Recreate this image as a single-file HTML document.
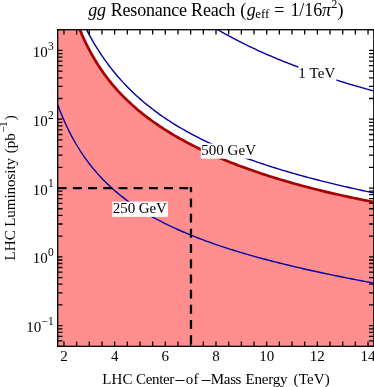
<!DOCTYPE html>
<html><head><meta charset="utf-8"><title>gg Resonance Reach</title>
<style>
html,body{margin:0;padding:0;background:#fff;}
body{width:374px;height:387px;overflow:hidden;}
svg{display:block;font-family:"Liberation Serif",serif;fill:#000;}
</style></head><body>
<svg width="374" height="387" viewBox="0 0 374 387">
<rect width="374" height="387" fill="#fff"/>
<path d="M79.90,29.70 L82.01,34.71 L84.13,39.43 L86.24,43.88 L88.36,48.10 L90.47,52.11 L92.58,55.91 L94.70,59.54 L96.81,63.00 L98.93,66.31 L101.04,69.48 L103.16,72.52 L105.27,75.44 L107.39,78.25 L109.50,80.95 L111.61,83.56 L113.73,86.08 L115.84,88.51 L117.96,90.86 L120.07,93.14 L122.19,95.35 L124.30,97.50 L126.41,99.58 L128.53,101.60 L130.64,103.57 L132.76,105.48 L134.87,107.34 L136.99,109.16 L139.10,110.93 L141.22,112.66 L143.33,114.35 L145.44,116.00 L147.56,117.61 L149.67,119.18 L151.79,120.73 L153.90,122.23 L156.02,123.71 L158.13,125.16 L160.25,126.58 L162.36,127.97 L164.47,129.33 L166.59,130.67 L168.70,131.99 L170.82,133.27 L172.93,134.54 L175.05,135.79 L177.16,137.01 L179.28,138.21 L181.39,139.39 L183.50,140.55 L185.62,141.70 L187.73,142.82 L189.85,143.93 L191.96,145.02 L194.08,146.09 L196.19,147.15 L198.30,148.19 L200.42,149.22 L202.53,150.23 L204.65,151.22 L206.76,152.20 L208.88,153.17 L210.99,154.12 L213.11,155.07 L215.22,155.99 L217.33,156.91 L219.45,157.81 L221.56,158.70 L223.68,159.58 L225.79,160.45 L227.91,161.31 L230.02,162.15 L232.14,162.99 L234.25,163.81 L236.36,164.63 L238.48,165.43 L240.59,166.23 L242.71,167.01 L244.82,167.79 L246.94,168.55 L249.05,169.31 L251.16,170.06 L253.28,170.80 L255.39,171.53 L257.51,172.25 L259.62,172.96 L261.74,173.67 L263.85,174.36 L265.97,175.05 L268.08,175.73 L270.19,176.41 L272.31,177.07 L274.42,177.73 L276.54,178.39 L278.65,179.03 L280.77,179.67 L282.88,180.30 L285.00,180.92 L287.11,181.54 L289.22,182.15 L291.34,182.75 L293.45,183.35 L295.57,183.94 L297.68,184.53 L299.80,185.10 L301.91,185.68 L304.02,186.24 L306.14,186.80 L308.25,187.36 L310.37,187.91 L312.48,188.45 L314.60,188.99 L316.71,189.52 L318.83,190.05 L320.94,190.57 L323.05,191.08 L325.17,191.59 L327.28,192.10 L329.40,192.60 L331.51,193.10 L333.63,193.59 L335.74,194.07 L337.86,194.55 L339.97,195.03 L342.08,195.50 L344.20,195.96 L346.31,196.43 L348.43,196.88 L350.54,197.33 L352.66,197.78 L354.77,198.23 L356.88,198.66 L359.00,199.10 L361.11,199.53 L363.23,199.95 L365.34,200.38 L367.46,200.79 L369.57,201.21 L371.69,201.62 L373.80,202.02 L373.80,346.35 L57.70,346.35 L57.70,29.70 Z" fill="#ff8f8f" stroke="none"/>
<path d="M217.79,29.70 L218.91,30.35 L220.03,31.00 L221.16,31.64 L222.28,32.28 L223.40,32.91 L224.52,33.54 L225.65,34.16 L226.77,34.78 L227.89,35.39 L229.01,36.00 L230.13,36.61 L231.26,37.21 L232.38,37.81 L233.50,38.40 L234.62,38.99 L235.75,39.58 L236.87,40.16 L237.99,40.74 L239.11,41.31 L240.24,41.88 L241.36,42.45 L242.48,43.01 L243.60,43.57 L244.73,44.13 L245.85,44.68 L246.97,45.23 L248.09,45.77 L249.22,46.31 L250.34,46.85 L251.46,47.39 L252.58,47.92 L253.70,48.45 L254.83,48.97 L255.95,49.49 L257.07,50.01 L258.19,50.52 L259.32,51.04 L260.44,51.54 L261.56,52.05 L262.68,52.55 L263.81,53.05 L264.93,53.55 L266.05,54.04 L267.17,54.53 L268.30,55.02 L269.42,55.50 L270.54,55.98 L271.66,56.46 L272.79,56.94 L273.91,57.41 L275.03,57.88 L276.15,58.35 L277.27,58.82 L278.40,59.28 L279.52,59.74 L280.64,60.19 L281.76,60.65 L282.89,61.10 L284.01,61.55 L285.13,62.00 L286.25,62.44 L287.38,62.88 L288.50,63.32 L289.62,63.76 L290.74,64.20 L291.87,64.63 L292.99,65.06 L294.11,65.49 L295.23,65.91 L296.36,66.33 L297.48,66.76 L298.60,67.17 L299.72,67.59 L300.84,68.00 L301.97,68.42 L303.09,68.83 L304.21,69.23 L305.33,69.64 L306.46,70.04 L307.58,70.44 L308.70,70.84 L309.82,71.24 L310.95,71.64 L312.07,72.03 L313.19,72.42 L314.31,72.81 L315.44,73.20 L316.56,73.58 L317.68,73.97 L318.80,74.35 L319.93,74.73 L321.05,75.10 L322.17,75.48 L323.29,75.85 L324.42,76.23 L325.54,76.60 L326.66,76.96 L327.78,77.33 L328.90,77.70 L330.03,78.06 L331.15,78.42 L332.27,78.78 L333.39,79.14 L334.52,79.49 L335.64,79.85 L336.76,80.20 L337.88,80.55 L339.01,80.90 L340.13,81.25 L341.25,81.59 L342.37,81.94 L343.50,82.28 L344.62,82.62 L345.74,82.96 L346.86,83.30 L347.99,83.64 L349.11,83.97 L350.23,84.31 L351.35,84.64 L352.47,84.97 L353.60,85.30 L354.72,85.63 L355.84,85.95 L356.96,86.28 L358.09,86.60 L359.21,86.92 L360.33,87.24 L361.45,87.56 L362.58,87.88 L363.70,88.19 L364.82,88.51 L365.94,88.82 L367.07,89.13 L368.19,89.44 L369.31,89.75 L370.43,90.06 L371.56,90.37 L372.68,90.67 L373.80,90.98" fill="none" stroke="#0000a2" stroke-width="1.4"/>
<path d="M86.56,29.70 L88.63,33.63 L90.69,37.42 L92.76,41.06 L94.83,44.56 L96.89,47.94 L98.96,51.21 L101.03,54.36 L103.09,57.40 L105.16,60.35 L107.23,63.20 L109.29,65.96 L111.36,68.63 L113.42,71.23 L115.49,73.75 L117.56,76.20 L119.62,78.57 L121.69,80.88 L123.76,83.13 L125.82,85.32 L127.89,87.44 L129.96,89.52 L132.02,91.54 L134.09,93.51 L136.16,95.43 L138.22,97.31 L140.29,99.14 L142.36,100.92 L144.42,102.67 L146.49,104.38 L148.55,106.04 L150.62,107.67 L152.69,109.27 L154.75,110.83 L156.82,112.36 L158.89,113.86 L160.95,115.33 L163.02,116.76 L165.09,118.17 L167.15,119.55 L169.22,120.91 L171.29,122.23 L173.35,123.54 L175.42,124.82 L177.49,126.07 L179.55,127.31 L181.62,128.52 L183.68,129.71 L185.75,130.88 L187.82,132.03 L189.88,133.16 L191.95,134.27 L194.02,135.36 L196.08,136.43 L198.15,137.49 L200.22,138.53 L202.28,139.56 L204.35,140.57 L206.42,141.56 L208.48,142.54 L210.55,143.50 L212.62,144.45 L214.68,145.38 L216.75,146.31 L218.81,147.21 L220.88,148.11 L222.95,148.99 L225.01,149.86 L227.08,150.72 L229.15,151.57 L231.21,152.41 L233.28,153.23 L235.35,154.05 L237.41,154.85 L239.48,155.64 L241.55,156.43 L243.61,157.20 L245.68,157.97 L247.75,158.72 L249.81,159.47 L251.88,160.20 L253.94,160.93 L256.01,161.65 L258.08,162.36 L260.14,163.07 L262.21,163.76 L264.28,164.45 L266.34,165.13 L268.41,165.80 L270.48,166.47 L272.54,167.12 L274.61,167.77 L276.68,168.42 L278.74,169.06 L280.81,169.69 L282.88,170.31 L284.94,170.93 L287.01,171.54 L289.07,172.14 L291.14,172.74 L293.21,173.34 L295.27,173.93 L297.34,174.51 L299.41,175.08 L301.47,175.66 L303.54,176.22 L305.61,176.78 L307.67,177.34 L309.74,177.89 L311.81,178.43 L313.87,178.97 L315.94,179.51 L318.01,180.04 L320.07,180.57 L322.14,181.09 L324.20,181.61 L326.27,182.12 L328.34,182.63 L330.40,183.14 L332.47,183.64 L334.54,184.14 L336.60,184.63 L338.67,185.12 L340.74,185.60 L342.80,186.08 L344.87,186.56 L346.94,187.04 L349.00,187.51 L351.07,187.97 L353.14,188.44 L355.20,188.90 L357.27,189.35 L359.33,189.81 L361.40,190.26 L363.47,190.70 L365.53,191.15 L367.60,191.59 L369.67,192.03 L371.73,192.46 L373.80,192.89" fill="none" stroke="#0000a2" stroke-width="1.4"/>
<path d="M57.70,104.74 L59.97,110.71 L62.25,116.31 L64.52,121.56 L66.80,126.51 L69.07,131.17 L71.34,135.59 L73.62,139.77 L75.89,143.74 L78.17,147.51 L80.44,151.11 L82.72,154.54 L84.99,157.82 L87.26,160.95 L89.54,163.96 L91.81,166.84 L94.09,169.61 L96.36,172.27 L98.63,174.84 L100.91,177.31 L103.18,179.69 L105.46,181.99 L107.73,184.21 L110.00,186.35 L112.28,188.43 L114.55,190.45 L116.83,192.40 L119.10,194.29 L121.37,196.12 L123.65,197.91 L125.92,199.64 L128.20,201.33 L130.47,202.96 L132.75,204.56 L135.02,206.12 L137.29,207.63 L139.57,209.11 L141.84,210.55 L144.12,211.96 L146.39,213.33 L148.66,214.67 L150.94,215.99 L153.21,217.27 L155.49,218.52 L157.76,219.75 L160.03,220.95 L162.31,222.13 L164.58,223.28 L166.86,224.42 L169.13,225.52 L171.41,226.61 L173.68,227.68 L175.95,228.72 L178.23,229.75 L180.50,230.76 L182.78,231.75 L185.05,232.73 L187.32,233.68 L189.60,234.63 L191.87,235.55 L194.15,236.46 L196.42,237.36 L198.69,238.24 L200.97,239.11 L203.24,239.96 L205.52,240.81 L207.79,241.63 L210.06,242.45 L212.34,243.26 L214.61,244.05 L216.89,244.84 L219.16,245.61 L221.44,246.37 L223.71,247.12 L225.98,247.86 L228.26,248.60 L230.53,249.32 L232.81,250.03 L235.08,250.74 L237.35,251.44 L239.63,252.12 L241.90,252.80 L244.18,253.48 L246.45,254.14 L248.72,254.80 L251.00,255.45 L253.27,256.09 L255.55,256.72 L257.82,257.35 L260.09,257.97 L262.37,258.59 L264.64,259.20 L266.92,259.80 L269.19,260.40 L271.47,260.99 L273.74,261.57 L276.01,262.15 L278.29,262.73 L280.56,263.30 L282.84,263.86 L285.11,264.42 L287.38,264.97 L289.66,265.52 L291.93,266.06 L294.21,266.60 L296.48,267.13 L298.75,267.66 L301.03,268.19 L303.30,268.71 L305.58,269.22 L307.85,269.74 L310.13,270.25 L312.40,270.75 L314.67,271.25 L316.95,271.75 L319.22,272.24 L321.50,272.73 L323.77,273.21 L326.04,273.70 L328.32,274.18 L330.59,274.65 L332.87,275.12 L335.14,275.59 L337.41,276.06 L339.69,276.52 L341.96,276.98 L344.24,277.43 L346.51,277.89 L348.78,278.34 L351.06,278.79 L353.33,279.23 L355.61,279.67 L357.88,280.11 L360.16,280.55 L362.43,280.98 L364.70,281.41 L366.98,281.84 L369.25,282.27 L371.53,282.69 L373.80,283.11" fill="none" stroke="#0000a2" stroke-width="1.4"/>
<path d="M79.90,29.70 L82.01,34.71 L84.13,39.43 L86.24,43.88 L88.36,48.10 L90.47,52.11 L92.58,55.91 L94.70,59.54 L96.81,63.00 L98.93,66.31 L101.04,69.48 L103.16,72.52 L105.27,75.44 L107.39,78.25 L109.50,80.95 L111.61,83.56 L113.73,86.08 L115.84,88.51 L117.96,90.86 L120.07,93.14 L122.19,95.35 L124.30,97.50 L126.41,99.58 L128.53,101.60 L130.64,103.57 L132.76,105.48 L134.87,107.34 L136.99,109.16 L139.10,110.93 L141.22,112.66 L143.33,114.35 L145.44,116.00 L147.56,117.61 L149.67,119.18 L151.79,120.73 L153.90,122.23 L156.02,123.71 L158.13,125.16 L160.25,126.58 L162.36,127.97 L164.47,129.33 L166.59,130.67 L168.70,131.99 L170.82,133.27 L172.93,134.54 L175.05,135.79 L177.16,137.01 L179.28,138.21 L181.39,139.39 L183.50,140.55 L185.62,141.70 L187.73,142.82 L189.85,143.93 L191.96,145.02 L194.08,146.09 L196.19,147.15 L198.30,148.19 L200.42,149.22 L202.53,150.23 L204.65,151.22 L206.76,152.20 L208.88,153.17 L210.99,154.12 L213.11,155.07 L215.22,155.99 L217.33,156.91 L219.45,157.81 L221.56,158.70 L223.68,159.58 L225.79,160.45 L227.91,161.31 L230.02,162.15 L232.14,162.99 L234.25,163.81 L236.36,164.63 L238.48,165.43 L240.59,166.23 L242.71,167.01 L244.82,167.79 L246.94,168.55 L249.05,169.31 L251.16,170.06 L253.28,170.80 L255.39,171.53 L257.51,172.25 L259.62,172.96 L261.74,173.67 L263.85,174.36 L265.97,175.05 L268.08,175.73 L270.19,176.41 L272.31,177.07 L274.42,177.73 L276.54,178.39 L278.65,179.03 L280.77,179.67 L282.88,180.30 L285.00,180.92 L287.11,181.54 L289.22,182.15 L291.34,182.75 L293.45,183.35 L295.57,183.94 L297.68,184.53 L299.80,185.10 L301.91,185.68 L304.02,186.24 L306.14,186.80 L308.25,187.36 L310.37,187.91 L312.48,188.45 L314.60,188.99 L316.71,189.52 L318.83,190.05 L320.94,190.57 L323.05,191.08 L325.17,191.59 L327.28,192.10 L329.40,192.60 L331.51,193.10 L333.63,193.59 L335.74,194.07 L337.86,194.55 L339.97,195.03 L342.08,195.50 L344.20,195.96 L346.31,196.43 L348.43,196.88 L350.54,197.33 L352.66,197.78 L354.77,198.23 L356.88,198.66 L359.00,199.10 L361.11,199.53 L363.23,199.95 L365.34,200.38 L367.46,200.79 L369.57,201.21 L371.69,201.62 L373.80,202.02" fill="none" stroke="#a60000" stroke-width="2.7"/>
<path d="M57.70,188.12 H188.5" fill="none" stroke="#000" stroke-width="2.3" stroke-dasharray="8.9,6.3"/>
<path d="M190.96,186.97 V346.35" fill="none" stroke="#000" stroke-width="2.3" stroke-dasharray="8.9,6.3" stroke-dashoffset="3.7"/>
<g style="will-change:transform"><rect x="298.30" y="66.25" width="38.00" height="15.25" fill="#fff"/><text x="298.18" y="77.85" font-size="15" letter-spacing="0.125">1 TeV</text><rect x="200.80" y="143.45" width="56.30" height="15.25" fill="#fff"/><text x="201.13" y="155.05" font-size="15" letter-spacing="0.061">500 GeV</text><rect x="112.30" y="201.60" width="55.60" height="15.25" fill="#fff"/><text x="112.84" y="213.20" font-size="15" letter-spacing="-0.091">250 GeV</text></g>
<path d="M63.95,346.35 L63.95,341.55 M63.95,29.70 L63.95,34.50 M76.62,346.35 L76.62,341.55 M76.62,29.70 L76.62,34.50 M89.29,346.35 L89.29,341.55 M89.29,29.70 L89.29,34.50 M101.96,346.35 L101.96,341.55 M101.96,29.70 L101.96,34.50 M114.63,346.35 L114.63,341.55 M114.63,29.70 L114.63,34.50 M127.31,346.35 L127.31,341.55 M127.31,29.70 L127.31,34.50 M139.98,346.35 L139.98,341.55 M139.98,29.70 L139.98,34.50 M152.65,346.35 L152.65,341.55 M152.65,29.70 L152.65,34.50 M165.32,346.35 L165.32,341.55 M165.32,29.70 L165.32,34.50 M177.99,346.35 L177.99,341.55 M177.99,29.70 L177.99,34.50 M190.66,346.35 L190.66,341.55 M190.66,29.70 L190.66,34.50 M203.33,346.35 L203.33,341.55 M203.33,29.70 L203.33,34.50 M216.00,346.35 L216.00,341.55 M216.00,29.70 L216.00,34.50 M228.67,346.35 L228.67,341.55 M228.67,29.70 L228.67,34.50 M241.34,346.35 L241.34,341.55 M241.34,29.70 L241.34,34.50 M254.01,346.35 L254.01,341.55 M254.01,29.70 L254.01,34.50 M266.69,346.35 L266.69,341.55 M266.69,29.70 L266.69,34.50 M279.36,346.35 L279.36,341.55 M279.36,29.70 L279.36,34.50 M292.03,346.35 L292.03,341.55 M292.03,29.70 L292.03,34.50 M304.70,346.35 L304.70,341.55 M304.70,29.70 L304.70,34.50 M317.37,346.35 L317.37,341.55 M317.37,29.70 L317.37,34.50 M330.04,346.35 L330.04,341.55 M330.04,29.70 L330.04,34.50 M342.71,346.35 L342.71,341.55 M342.71,29.70 L342.71,34.50 M355.38,346.35 L355.38,341.55 M355.38,29.70 L355.38,34.50 M368.05,346.35 L368.05,341.55 M368.05,29.70 L368.05,34.50 M57.70,346.35 L62.50,346.35 M373.80,346.35 L369.00,346.35 M57.70,340.90 L62.50,340.90 M373.80,340.90 L369.00,340.90 M57.70,336.30 L62.50,336.30 M373.80,336.30 L369.00,336.30 M57.70,332.31 L62.50,332.31 M373.80,332.31 L369.00,332.31 M57.70,328.79 L62.50,328.79 M373.80,328.79 L369.00,328.79 M57.70,325.64 L62.50,325.64 M373.80,325.64 L369.00,325.64 M57.70,304.92 L62.50,304.92 M373.80,304.92 L369.00,304.92 M57.70,292.81 L62.50,292.81 M373.80,292.81 L369.00,292.81 M57.70,284.21 L62.50,284.21 M373.80,284.21 L369.00,284.21 M57.70,277.54 L62.50,277.54 M373.80,277.54 L369.00,277.54 M57.70,272.10 L62.50,272.10 M373.80,272.10 L369.00,272.10 M57.70,267.49 L62.50,267.49 M373.80,267.49 L369.00,267.49 M57.70,263.50 L62.50,263.50 M373.80,263.50 L369.00,263.50 M57.70,259.98 L62.50,259.98 M373.80,259.98 L369.00,259.98 M57.70,256.83 L62.50,256.83 M373.80,256.83 L369.00,256.83 M57.70,236.12 L62.50,236.12 M373.80,236.12 L369.00,236.12 M57.70,224.00 L62.50,224.00 M373.80,224.00 L369.00,224.00 M57.70,215.41 L62.50,215.41 M373.80,215.41 L369.00,215.41 M57.70,208.74 L62.50,208.74 M373.80,208.74 L369.00,208.74 M57.70,203.29 L62.50,203.29 M373.80,203.29 L369.00,203.29 M57.70,198.68 L62.50,198.68 M373.80,198.68 L369.00,198.68 M57.70,194.69 L62.50,194.69 M373.80,194.69 L369.00,194.69 M57.70,191.17 L62.50,191.17 M373.80,191.17 L369.00,191.17 M57.70,188.03 L62.50,188.03 M373.80,188.03 L369.00,188.03 M57.70,167.31 L62.50,167.31 M373.80,167.31 L369.00,167.31 M57.70,155.20 L62.50,155.20 M373.80,155.20 L369.00,155.20 M57.70,146.60 L62.50,146.60 M373.80,146.60 L369.00,146.60 M57.70,139.93 L62.50,139.93 M373.80,139.93 L369.00,139.93 M57.70,134.48 L62.50,134.48 M373.80,134.48 L369.00,134.48 M57.70,129.88 L62.50,129.88 M373.80,129.88 L369.00,129.88 M57.70,125.89 L62.50,125.89 M373.80,125.89 L369.00,125.89 M57.70,122.37 L62.50,122.37 M373.80,122.37 L369.00,122.37 M57.70,119.22 L62.50,119.22 M373.80,119.22 L369.00,119.22 M57.70,98.51 L62.50,98.51 M373.80,98.51 L369.00,98.51 M57.70,86.39 L62.50,86.39 M373.80,86.39 L369.00,86.39 M57.70,77.79 L62.50,77.79 M373.80,77.79 L369.00,77.79 M57.70,71.13 L62.50,71.13 M373.80,71.13 L369.00,71.13 M57.70,65.68 L62.50,65.68 M373.80,65.68 L369.00,65.68 M57.70,61.07 L62.50,61.07 M373.80,61.07 L369.00,61.07 M57.70,57.08 L62.50,57.08 M373.80,57.08 L369.00,57.08 M57.70,53.56 L62.50,53.56 M373.80,53.56 L369.00,53.56 M57.70,50.41 L62.50,50.41 M373.80,50.41 L369.00,50.41 M57.70,29.70 L62.50,29.70 M373.80,29.70 L369.00,29.70" fill="none" stroke="#000" stroke-width="1.3"/>
<rect x="57.70" y="29.70" width="316.10" height="316.65" fill="none" stroke="#000" stroke-width="1.3"/>
<g style="will-change:transform">
<text x="47.65" y="57.01" text-anchor="end" font-size="15">10</text>
<text x="47.95" y="49.71" font-size="11.5">3</text>
<text x="47.65" y="125.82" text-anchor="end" font-size="15">10</text>
<text x="47.95" y="118.52" font-size="11.5">2</text>
<text x="47.65" y="194.62" text-anchor="end" font-size="15">10</text>
<text x="47.95" y="187.32" font-size="11.5">1</text>
<text x="47.65" y="263.43" text-anchor="end" font-size="15">10</text>
<text x="47.95" y="256.13" font-size="11.5">0</text>
<text x="41.16" y="332.24" text-anchor="end" font-size="15">10</text>
<text x="41.46" y="324.94" font-size="11.5">−1</text>
<text x="63.95" y="361.45" text-anchor="middle" font-size="15">2</text>
<text x="114.63" y="361.45" text-anchor="middle" font-size="15">4</text>
<text x="165.32" y="361.45" text-anchor="middle" font-size="15">6</text>
<text x="216.00" y="361.45" text-anchor="middle" font-size="15">8</text>
<text x="266.69" y="361.45" text-anchor="middle" font-size="15">10</text>
<text x="317.37" y="361.45" text-anchor="middle" font-size="15">12</text>
<text x="368.05" y="361.45" text-anchor="middle" font-size="15">14</text>
<text x="102.16" y="384.30" font-size="15" letter-spacing="0.230">LHC</text>
<text x="136.08" y="384.30" font-size="15" letter-spacing="-0.368">Center</text>
<text x="185.73" y="384.30" font-size="15" letter-spacing="0.275">of</text>
<text x="210.87" y="384.30" font-size="15" letter-spacing="-0.363">Mass</text>
<text x="245.56" y="384.30" font-size="15" letter-spacing="-0.211">Energy</text>
<text x="293.44" y="384.30" font-size="15" letter-spacing="0.206">(TeV)</text>
<path d="M175.4,380.5 H184.5 M201.6,380.5 H210.6" stroke="#000" stroke-width="0.95" fill="none"/>
<g transform="translate(14.7,260) rotate(-90)"><text x="-0.43" y="0.00" font-size="15" letter-spacing="0.080">LHC</text><text x="33.16" y="0.00" font-size="15" letter-spacing="-0.030">Luminosity</text><text x="106.74" y="0.00" font-size="15" letter-spacing="0.018">(pb</text><text x="127.40" y="-7.60" font-size="11.5" letter-spacing="0.000">−</text><text x="132.91" y="-7.60" font-size="11.5" letter-spacing="0.000">1</text><text x="139.69" y="0.00" font-size="15" letter-spacing="0.000">)</text></g>
<text x="88.28" y="16.00" font-size="18" letter-spacing="-0.360" font-style="italic">gg</text>
<text x="110.78" y="16.00" font-size="18" letter-spacing="-0.213">Resonance Reach</text>
<text x="240.20" y="16.00" font-size="18" letter-spacing="0.000">(</text>
<text x="246.70" y="16.00" font-size="18" letter-spacing="0.000" font-style="italic">g</text>
<text x="255.19" y="18.30" font-size="13" letter-spacing="-0.044">eff</text>
<text x="274.37" y="16.00" font-size="18" letter-spacing="0.000">=</text>
<text x="290.42" y="16.00" font-size="18" letter-spacing="-0.093">1/16</text>
<text x="321.94" y="16.00" font-size="18" letter-spacing="0.000" font-style="italic">π</text>
<text x="331.34" y="7.90" font-size="12.3" letter-spacing="0.000">2</text>
<text x="337.46" y="16.00" font-size="18" letter-spacing="0.000">)</text>
</g>
</svg>
</body></html>
